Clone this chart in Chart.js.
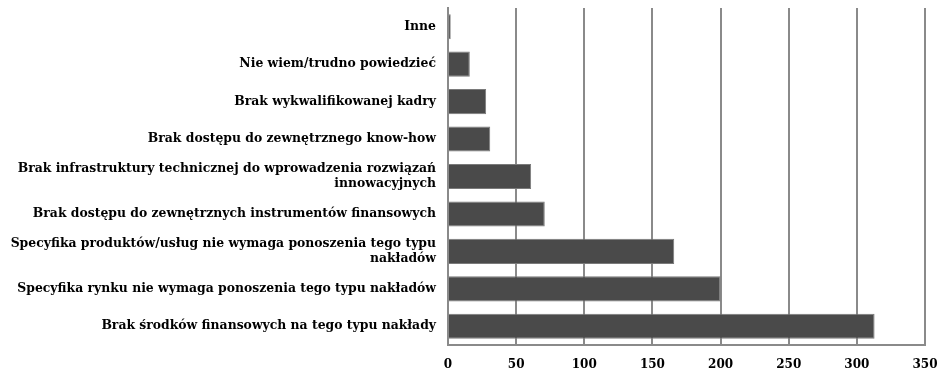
<!DOCTYPE html>
<html>
<head>
<meta charset="utf-8">
<script src="https://cdn.jsdelivr.net/npm/chart.js@4"></script>
<style>
    html, body { margin: 0; padding: 0; background: #fff; }
    #wrap { width: 943px; height: 381px; }
</style>
</head>
<body>
<div id="wrap"><canvas id="chart"></canvas></div>
<script>
const categories = [
    'Inne',
    'Nie wiem/trudno powiedzieć',
    'Brak wykwalifikowanej kadry',
    'Brak dostępu do zewnętrznego know-how',
    ['Brak infrastruktury technicznej do wprowadzenia rozwiązań', 'innowacyjnych'],
    'Brak dostępu do zewnętrznych instrumentów finansowych',
    ['Specyfika produktów/usług nie wymaga ponoszenia tego typu', 'nakładów'],
    'Specyfika rynku nie wymaga ponoszenia tego typu nakładów',
    'Brak środków finansowych na tego typu nakłady'
];
const counts = [2, 16, 28, 31, 61, 71, 166, 200, 313];
const xTicks = [0, 50, 100, 150, 200, 250, 300, 350];

const yFont = { family: '"DejaVu Serif", serif', weight: 'bold', size: 12.4, lineHeight: 1.25 };
const xFont = { family: '"DejaVu Serif", serif', weight: 'bold', size: 12 };

const ctx = document.getElementById('chart').getContext('2d');
new Chart(ctx, {
    type: 'bar',
    data: {
        labels: categories,
        datasets: [{
            data: counts,
            backgroundColor: '#4a4a4a',
            borderColor: '#7a7a7a',
            borderWidth: 1,
            categoryPercentage: 1,
            barPercentage: 0.67
        }]
    },
    options: {
        indexAxis: 'y',
        responsive: true,
        maintainAspectRatio: false,
        animation: false,
        layout: { padding: { left: 0, right: 18, top: 8, bottom: 0 } },
        plugins: {
            legend: { display: false },
            tooltip: { enabled: false }
        },
        scales: {
            x: {
                min: 0,
                max: 350,
                afterBuildTicks: scale => { scale.ticks = xTicks.map(v => ({ value: v })); },
                afterFit: scale => {
                    scale.height = 36;
                    scale.paddingLeft = 0;
                    scale.paddingRight = 0;
                },
                grid: { color: '#8a8a8a', lineWidth: 2, drawTicks: false },
                border: { color: '#8a8a8a', width: 2 },
                ticks: { color: '#000', font: xFont, padding: 13 }
            },
            y: {
                afterFit: scale => {
                    scale.width = 448;
                    scale.paddingTop = 0;
                    scale.paddingBottom = 0;
                },
                grid: { display: false, drawTicks: false },
                border: { color: '#8a8a8a', width: 2 },
                ticks: { color: '#000', font: yFont, padding: 12, autoSkip: false }
            }
        }
    }
});
</script>
</body>
</html>
